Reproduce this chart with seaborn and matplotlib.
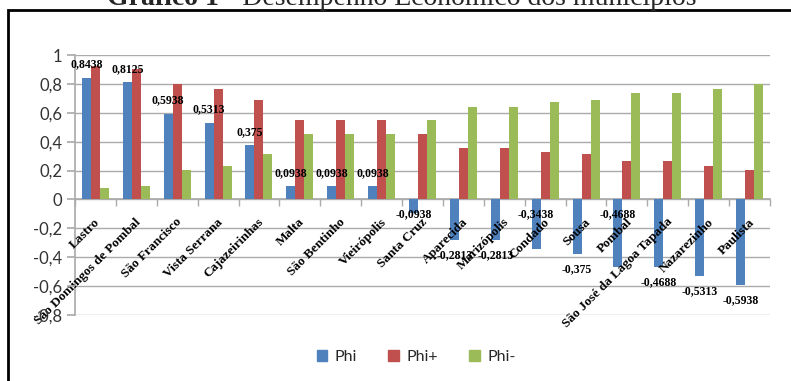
import matplotlib
matplotlib.use("Agg")
import matplotlib.pyplot as plt
from matplotlib.patches import Rectangle
from matplotlib.ticker import FixedLocator
from matplotlib.transforms import ScaledTranslation
import seaborn as sns
import pandas as pd

# Municípios, ordenados pelo fluxo líquido (Phi)
municipios = [
    "Lastro", "São Domingos de Pombal", "São Francisco", "Vista Serrana",
    "Cajazeirinhas", "Malta", "São Bentinho", "Vieirópolis", "Santa Cruz",
    "Aparecida", "Marizópolis", "Condado", "Sousa", "Pombal",
    "São José da Lagoa Tapada", "Nazarezinho", "Paulista",
]
phi = [0.8438, 0.8125, 0.5938, 0.5313, 0.375, 0.0938, 0.0938, 0.0938, -0.0938,
       -0.2813, -0.2813, -0.3438, -0.375, -0.4688, -0.4688, -0.5313, -0.5938]
phi_mais = [0.9219, 0.9063, 0.7969, 0.7656, 0.6875, 0.5469, 0.5469, 0.5469, 0.4531,
            0.3594, 0.3594, 0.3281, 0.3125, 0.2656, 0.2656, 0.2344, 0.2031]
phi_menos = [0.0781, 0.0938, 0.2031, 0.2344, 0.3125, 0.4531, 0.4531, 0.4531, 0.5469,
             0.6406, 0.6406, 0.6719, 0.6875, 0.7344, 0.7344, 0.7656, 0.7969]
series = ["Phi", "Phi+", "Phi-"]
yticks = [-0.8, -0.6, -0.4, -0.2, 0, 0.2, 0.4, 0.6, 0.8, 1]

# labels of these negative bars sit just under the zero line
rotulo_na_base = {"Santa Cruz", "Condado", "Pombal"}

df = pd.DataFrame({
    "Município": municipios * 3,
    "Série": [s for s in series for _ in municipios],
    "Valor": phi + phi_mais + phi_menos,
})

sns.set_theme(style="white")
plt.rcParams["font.family"] = ["Lato", "DejaVu Sans"]

fig = plt.figure(figsize=(7.91, 3.81), dpi=100)
W, H = 791, 381
ax = fig.add_axes([75 / W, 1 - 315 / H, 695 / W, 260 / H])

cores = ["#4F81BD", "#C0504D", "#9BBB59"]
sns.barplot(data=df, x="Município", y="Valor", hue="Série", hue_order=series,
            palette=cores, width=0.66, saturation=1, ax=ax, legend=False,
            edgecolor="none", linewidth=0)

ax.set_ylim(-0.8, 1.0)
ax.set_xlim(-0.5, len(municipios) - 0.5)
ax.set_yticks(yticks)
ax.set_yticklabels([("%g" % v).replace(".", ",") for v in yticks],
                   fontsize=12, color="#333333")
# gridlines behind the bars; axis labels stay in front of them
for v in yticks:
    ax.axhline(v, color="#ABABAB", linewidth=1, zorder=0)
ax.set_axisbelow(False)
ax.set_xlabel("")
ax.set_ylabel("")

for s in ["top", "right"]:
    ax.spines[s].set_visible(False)
for s in ["left", "bottom"]:
    ax.spines[s].set_color("#ABABAB")
    ax.spines[s].set_zorder(0.5)
ax.spines["bottom"].set_position(("data", 0))
ax.tick_params(axis="y", which="major", length=6, color="#ABABAB", left=True, pad=3)

# category labels hang below the zero line, boundaries get small tick marks
ax.set_xticks(range(len(municipios)))
ax.set_xticklabels(municipios, rotation=45, ha="right", va="center",
                   rotation_mode="anchor", family="Liberation Serif",
                   fontweight="bold", fontsize=9.5, color="black")
ax.tick_params(axis="x", which="major", length=0, pad=15)
deslocamento = ScaledTranslation(3 / 100, 0, fig.dpi_scale_trans)
for rot in ax.get_xticklabels():
    rot.set_transform(rot.get_transform() + deslocamento)
ax.xaxis.set_minor_locator(FixedLocator([i + 0.5 for i in range(-1, len(municipios))]))
ax.tick_params(axis="x", which="minor", length=5, color="#ABABAB", bottom=True)

# value labels for Phi
for nome, barra, v in zip(municipios, ax.containers[0], phi):
    xc = barra.get_x() + barra.get_width() / 2
    texto = ("%g" % v).replace(".", ",")
    if v >= 0:
        y, dy = v, 9.5
    elif nome in rotulo_na_base:
        y, dy = 0, -10.5
    else:
        y, dy = v, -11
    ax.annotate(texto, xy=(xc, y), xytext=(0, dy), textcoords="offset points",
                ha="center", va="center", family="Liberation Serif",
                fontweight="bold", fontsize=8.5, color="black", zorder=5)

# legend
alcas = [Rectangle((0, 0), 1, 1, color=c) for c in cores]
fig.legend(alcas, series, loc="center", bbox_to_anchor=(416 / W, 1 - 357 / H),
           ncol=3, frameon=False, fontsize=11.5, handlelength=0.65,
           handleheight=0.65, handletextpad=0.45, columnspacing=2.0)

# outer frame
fig.patches.append(Rectangle((8 / W, -0.1), 1.2, 1.1 - 10 / H, transform=fig.transFigure,
                             fill=False, edgecolor="black", linewidth=2))

# title, sitting above the frame
fig.canvas.draw()
r = fig.canvas.get_renderer()
t1 = fig.text(107 / W, 1 - 5 / H, "Gráfico 1", family="Liberation Serif",
              fontweight="bold", fontsize=20, va="baseline", ha="left")
bb = t1.get_window_extent(r)
fig.text(bb.x1 / W, 1 - 5 / H, " - Desempenho Econômico dos municípios",
         family="Liberation Serif", fontsize=20, va="baseline", ha="left")

fig.savefig("out.png", dpi=100)
